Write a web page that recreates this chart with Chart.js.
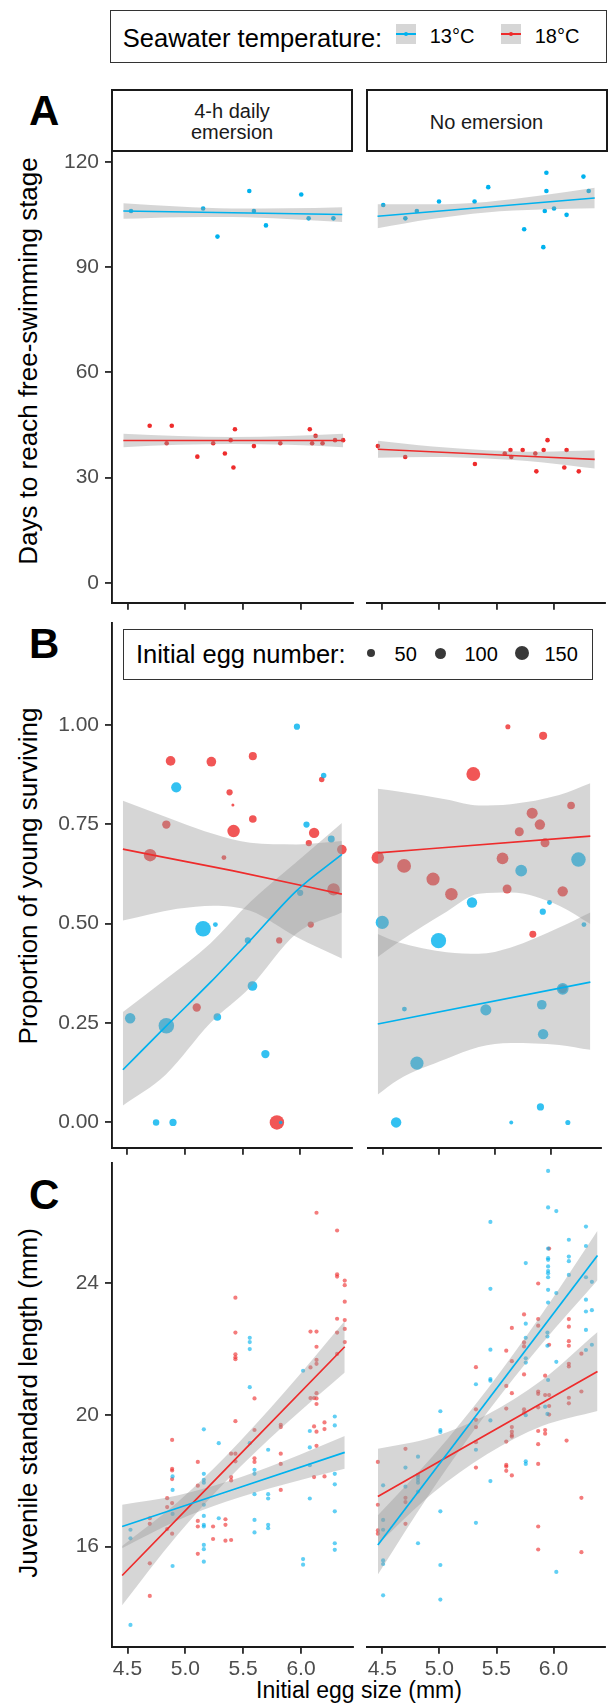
<!DOCTYPE html>
<html><head><meta charset="utf-8">
<script src="https://cdn.jsdelivr.net/npm/chart.js@4/dist/chart.umd.min.js"></script>
<style>
html,body{margin:0;padding:0;background:#fff}
body{position:relative;width:609px;height:1704px;overflow:hidden;font-family:'Liberation Sans',Arial,Helvetica,sans-serif;color:#000}
.t{position:absolute;white-space:nowrap;line-height:1}
.box{position:absolute;box-sizing:border-box}
canvas{position:absolute}
.ytitle{position:absolute;width:600px;height:26px;line-height:26px;font-size:26px;text-align:center;transform:rotate(-90deg);white-space:nowrap}
.letter{position:absolute;font-weight:bold;font-size:42px;line-height:1}
</style></head><body>

<!-- temperature legend -->
<div class="box" style="left:110px;top:10px;width:497px;height:52.5px;border:1.9px solid #333"></div>
<div class="t" style="left:122.8px;top:25.8px;font-size:25.5px">Seawater temperature:</div>
<div class="box" style="left:395.7px;top:24px;width:20px;height:20px;background:#d6d6d6"></div>
<div class="box" style="left:395.7px;top:33.2px;width:20px;height:1.6px;background:rgb(0,178,238)"></div>
<div class="box" style="left:403.5px;top:31.8px;width:4.4px;height:4.4px;border-radius:50%;background:rgb(0,178,238)"></div>
<div class="t" style="left:429.7px;top:25.5px;font-size:20px">13°C</div>
<div class="box" style="left:500.8px;top:24px;width:20px;height:20px;background:#d6d6d6"></div>
<div class="box" style="left:500.8px;top:33.2px;width:20px;height:1.6px;background:rgb(238,44,44)"></div>
<div class="box" style="left:508.6px;top:31.8px;width:4.4px;height:4.4px;border-radius:50%;background:rgb(238,44,44)"></div>
<div class="t" style="left:534.7px;top:25.5px;font-size:20px">18°C</div>

<!-- strips -->
<div class="box" style="left:110.8px;top:89.3px;width:242.5px;height:62.4px;border:2px solid #1a1a1a"></div>
<div class="t" style="left:110.8px;top:100.5px;width:242.5px;text-align:center;font-size:20px;line-height:21.7px;color:#1a1a1a">4-h daily<br>emersion</div>
<div class="box" style="left:365.5px;top:89.3px;width:242px;height:62.4px;border:2px solid #1a1a1a"></div>
<div class="t" style="left:365.5px;top:111.5px;width:242px;text-align:center;font-size:20px;line-height:21.7px;color:#1a1a1a">No emersion</div>

<!-- panel letters -->
<div class="letter" style="left:29px;top:90.1px">A</div>
<div class="letter" style="left:29px;top:623px">B</div>
<div class="letter" style="left:29px;top:1174.4px">C</div>

<!-- axis titles -->
<div class="ytitle" style="left:-271.8px;top:347.5px">Days to reach free-swimming stage</div>
<div class="ytitle" style="left:-271.8px;top:863px">Proportion of young surviving</div>
<div class="ytitle" style="left:-271.8px;top:1390px">Juvenile standard length (mm)</div>
<div class="t" style="left:159px;width:400px;text-align:center;top:1678.7px;font-size:23px">Initial egg size (mm)</div>

<!-- egg number legend -->
<div class="box" style="left:122.8px;top:629.3px;width:470px;height:50.7px;border:1.9px solid #333"></div>
<div class="t" style="left:135.9px;top:642.2px;font-size:25.5px">Initial egg number:</div>
<div class="t" style="left:394.6px;top:643.5px;font-size:20px">50</div>
<div class="t" style="left:464.5px;top:643.5px;font-size:20px">100</div>
<div class="t" style="left:544.4px;top:643.5px;font-size:20px">150</div>
<div id="sizeKeys"></div>

<script>
// ================= DATA =================
// shared x axis (initial egg size, mm)
const xTicks = [4.5, 5.0, 5.5, 6.0];
const xTickLabels = ['4.5', '5.0', '5.5', '6.0'];

// ---- Panel A : days to reach free-swimming stage ----
const A_yTicks = [0, 30, 60, 90, 120];
const A_yTickLabels = ['0', '30', '60', '90', '120'];
const A_emer_13_x = [4.531,5.154,5.278,5.553,5.593,5.697,6.002,6.066,6.280];
const A_emer_13_y = [106.0,106.7,98.7,111.7,106.0,101.9,110.7,103.9,103.9];
const A_emer_18_x = [4.692,4.839,4.883,5.104,5.241,5.342,5.392,5.416,5.429,5.593,5.821,6.076,6.096,6.126,6.186,6.294,6.364];
const A_emer_18_y = [44.8,39.8,44.8,36.0,39.8,36.9,40.7,32.9,43.8,39.0,39.8,43.8,39.8,41.9,39.8,40.7,40.7];
const A_none_13_x = [4.507,4.701,4.802,4.996,5.308,5.428,5.743,5.911,5.924,5.938,5.938,6.005,6.115,6.263,6.309];
const A_none_13_y = [107.7,103.9,106.0,108.7,108.7,112.8,100.8,95.7,106.0,116.9,111.7,106.7,104.9,115.8,111.7];
const A_none_18_x = [4.46,4.70,5.311,5.573,5.623,5.63,5.730,5.841,5.850,5.914,5.948,6.095,6.115,6.222];
const A_none_18_y = [39.0,35.9,33.9,36.9,37.9,35.9,37.9,36.9,31.8,37.9,40.7,32.9,37.9,31.8];
// fitted lines and confidence bands
const A_emer_13_fit_x = [4.464, 6.357], A_emer_13_fit_y = [106.0, 105.0];
const A_emer_13_band_x = [4.464,4.94,5.41,5.88,6.357];
const A_emer_13_band_lo = [103.8,104.25,104.3,103.75,102.9];
const A_emer_13_band_hi = [108.2,107.25,106.7,106.75,107.1];
const A_none_13_fit_x = [4.457, 6.362], A_none_13_fit_y = [104.5, 109.7];
const A_none_13_band_x = [4.457,4.93,5.41,5.89,6.362];
const A_none_13_band_lo = [101.1,103.69,105.6,106.41,106.8];
const A_none_13_band_hi = [107.9,107.89,108.6,110.41,112.6];
const A_emer_18_fit_x = [4.464, 6.364], A_emer_18_fit_y = [40.6, 40.6];
const A_emer_18_band_x = [4.464,4.94,5.41,5.89,6.364];
const A_emer_18_band_lo = [38.7,39.35,39.6,39.35,38.7];
const A_emer_18_band_hi = [42.5,41.85,41.6,41.85,42.5];
const A_none_18_fit_x = [4.46, 6.362], A_none_18_fit_y = [38.1, 35.2];
const A_none_18_band_x = [4.46,4.94,5.41,5.89,6.362];
const A_none_18_band_lo = [35.7,35.87,35.45,34.42,32.6];
const A_none_18_band_hi = [40.5,38.87,37.85,37.42,37.8];

// ---- Panel B : proportion of young surviving (point size = initial egg number) ----
const B_yTicks = [0, 0.25, 0.5, 0.75, 1.0];
const B_yTickLabels = ['0.00', '0.25', '0.50', '0.75', '1.00'];
const B_sizeKeys = [50, 100, 150];
const B_emer_13_x = [4.924,5.972,6.055,6.270,6.204,6.000,5.157,5.264,5.546,5.586,4.524,4.838,5.281,5.698,4.749,4.896,5.831];
const B_emer_13_y = [0.8425,0.995,0.749,0.7125,0.8725,0.5775,0.487,0.4975,0.4575,0.343,0.262,0.243,0.265,0.172,0,0,0];
const B_emer_13_n = [80,30,30,37,23,30,186,18,30,72,83,186,45,53,32,40,10];
const B_emer_18_x = [4.875,5.229,5.589,5.387,5.416,5.589,5.422,4.838,4.697,5.338,6.121,6.075,6.362,6.187,6.290,6.092,5.818,5.102,5.798];
const B_emer_18_y = [0.909,0.907,0.921,0.83,0.798,0.763,0.7325,0.749,0.672,0.666,0.728,0.7025,0.686,0.8625,0.586,0.4975,0.4575,0.289,0];
const B_emer_18_n = [72,72,50,30,7,45,120,53,120,18,83,30,72,23,120,30,30,53,160];
const B_none_13_x = [5.735,6.247,4.493,5.295,4.996,5.988,5.928,6.296,4.691,5.419,5.919,6.106,5.931,4.803,4.617,5.907,5.646,6.152];
const B_none_13_y = [0.633,0.661,0.503,0.553,0.457,0.553,0.53,0.4975,0.285,0.283,0.296,0.336,0.222,0.149,0,0.039,0,0];
const B_none_13_n = [106,162,133,83,178,18,30,18,18,94,72,106,83,133,83,40,12,20];
const B_none_18_x = [5.307,6.181,5.833,5.902,5.718,5.948,4.453,4.688,4.947,5.111,5.568,5.609,6.106,5.839,6.106,5.616,5.931];
const B_none_18_y = [0.876,0.797,0.7775,0.749,0.731,0.703,0.666,0.645,0.612,0.574,0.664,0.587,0.581,0.473,0.336,0.995,0.972];
const B_none_18_n = [148,45,94,83,62,62,120,148,133,120,106,62,83,37,60,20,50];
const B_emer_13_fit_x = [4.461,4.832,5.22,5.566,5.968,6.362];
const B_emer_13_fit_y = [0.1325,0.241,0.352,0.4575,0.5825,0.674];
const B_emer_13_band_x = [4.461,4.832,5.22,5.566,5.968,6.362];
const B_emer_13_band_lo = [0.0425,0.12,0.25,0.34,0.475,0.528];
const B_emer_13_band_hi = [0.278,0.36,0.45,0.554,0.655,0.753];
const B_emer_18_fit_x = [4.461,5.41,6.362];
const B_emer_18_fit_y = [0.687,0.633,0.574];
const B_emer_18_band_x = [4.461,4.933,5.25,5.566,5.968,6.362];
const B_emer_18_band_lo = [0.5075,0.537,0.545,0.532,0.466,0.412];
const B_emer_18_band_hi = [0.809,0.7575,0.725,0.703,0.699,0.7075];
const B_none_13_fit_x = [4.453,6.353];
const B_none_13_fit_y = [0.2475,0.353];
const B_none_13_band_x = [4.453,4.636,5.068,5.356,5.643,6.075,6.353];
const B_none_13_band_lo = [0.07,0.1075,0.16,0.19,0.2,0.195,0.1825];
const B_none_13_band_hi = [0.474,0.453,0.428,0.424,0.44,0.49,0.528];
const B_none_18_fit_x = [4.453,6.353];
const B_none_18_fit_y = [0.678,0.72];
const B_none_18_band_x = [4.453,4.636,5.068,5.356,5.643,6.075,6.353];
const B_none_18_band_lo = [0.416,0.453,0.53,0.575,0.578,0.545,0.499];
const B_none_18_band_hi = [0.839,0.832,0.812,0.797,0.80,0.823,0.853];

// ---- Panel C : juvenile standard length (mm) ----
const C_yTicks = [16, 20, 24];
const C_yTickLabels = ['16', '20', '24'];
const C_emer_13_x = [4.526,4.526,4.526, 4.89,4.89,4.89,4.89, 5.16,5.16,5.16,5.16,5.16,5.16,5.16,5.16,5.16,5.16,5.16, 5.289,5.289, 5.557,5.557,5.557,5.557,5.557, 5.598,5.598,5.598,5.598,5.598, 5.716,5.716,5.716,5.716,5.716, 6.018,6.018,6.018, 6.076,6.076,6.076,6.076, 6.292,6.292,6.292,6.292,6.292,6.292,6.292];
const C_emer_13_y = [16.51,16.25,13.62, 18.13,17.72,16.99,15.41, 19.56,18.21,18.03,17.94,17.27,16.93,16.66,16.61,16.05,15.92,15.54, 19.14,16.86, 19.14,22.34,22.21,22.00,20.84, 18.33,18.21,17.59,16.81,16.43, 18.94,17.59,17.46,16.66,16.56, 15.62,15.45,21.34, 19.51,19.01,18.47,17.46, 19.95,19.68,18.21,17.89,17.07,16.10,15.90];
const C_emer_18_x = [4.693,4.693,4.693,4.693, 4.843,4.843,4.843, 4.886,4.886,4.886,4.886,4.886,4.886, 5.108,5.108,5.108,5.108,5.108, 5.24,5.24, 5.347,5.347,5.347, 5.396,5.396,5.396,5.396, 5.433,5.433,5.433,5.433,5.433,5.433,5.433,5.433, 5.598,5.598,5.598,5.598, 5.825,5.825,5.825,5.825,5.825, 6.082,6.082,6.082, 6.113,6.113,6.113, 6.134,6.134,6.134,6.134,6.134,6.134,6.134,6.134,6.134,6.134, 6.203,6.203,6.203, 6.312,6.312,6.312,6.312,6.312,6.312, 6.378,6.378,6.378,6.378,6.378,6.378];
const C_emer_18_y = [15.49,14.50,16.86,16.69, 17.47,17.20,16.53, 19.24,18.36,18.31,18.05,17.32,16.39, 18.57,17.85,16.78,16.61,15.78, 16.61,16.23, 16.83,16.66,16.18, 16.20,18.82,18.11,18.01, 19.81,18.82,18.59,23.56,22.50,21.84,21.75,21.69, 20.50,19.54,18.68,18.57, 19.70,19.63,18.82,18.51,17.72, 22.53,21.44,20.51, 19.65,18.11,20.51, 22.53,22.07,21.67,21.55,26.14,20.66,20.50,20.33,19.49,19.06, 19.77,19.57,18.13, 25.60,24.27,24.20,22.92,22.50,21.85, 24.08,23.94,23.44,22.88,22.61,22.21];
const C_none_13_x = [4.506,4.506,4.506,4.506,4.506,4.506, 4.702,4.702, 4.812,4.812,4.812,4.812,4.812,4.812, 5.008,5.008,5.008,5.008,5.008,5.008, 5.32,5.32,5.32, 5.447,5.447,5.447,5.447,5.447,5.447,5.447, 5.757,5.757,5.757,5.757,5.757,5.757,5.757,5.757, 5.927, 5.947,5.947,5.947,5.947, 5.953,5.953,5.953,5.953,5.953,5.953,5.953,5.953,5.953,5.953,5.953,5.953, 6.025,6.025,6.025,6.025, 6.135,6.135,6.135,6.135, 6.285,6.285,6.285,6.285,6.285,6.285,6.285, 6.337,6.337,6.337];
const C_none_13_y = [17.86,16.81,16.51,15.58,15.47,14.52, 18.40,17.82, 18.73,18.11,18.03,17.94,17.67,16.10, 20.11,19.54,19.48,17.07,15.44,14.39, 18.94,16.72,20.93, 19.83,17.99,25.86,23.83,21.98,21.09,21.04, 19.99,18.59,18.51,24.61,22.77,22.34,21.72,21.59, 20.25, 20.03,22.50,22.38,22.10, 27.41,26.30,25.05,24.76,24.71,24.51,24.37,24.30,24.18,23.80,23.41,21.06, 15.23,26.19,23.70,21.61, 25.32,24.81,24.67,24.25, 25.72,25.13,24.18,23.50,23.14,22.58,21.97, 24.04,23.18,22.13];
const C_none_18_x = [4.46,4.46,4.46,4.46, 4.702,4.702,4.702,4.702, 4.812, 5.32,5.32,5.32,5.32,5.32,5.32, 5.586,5.586,5.586,5.586,5.586,5.586,5.586, 5.635,5.635,5.635,5.635,5.635,5.635,5.635,5.635, 5.742,5.742,5.742,5.742,5.742,5.742, 5.866,5.866,5.866,5.866,5.866,5.866,5.866,5.866,5.866,5.866,5.866, 5.927,5.927,5.927,5.927, 5.962,5.962,5.962,5.962,5.962, 6.115, 6.135,6.135,6.135,6.135,6.135,6.135,6.135,6.135, 6.245,6.245,6.245,6.245];
const C_none_18_y = [18.57,17.27,16.49,16.39, 18.97,17.48,17.35,16.69, 18.18, 20.17,19.85,19.63,19.17,18.40,21.45, 20.19,19.19,18.48,18.43,18.30,21.95,20.88, 20.66,19.63,19.49,19.39,19.34,18.16,22.64,21.63, 20.17,20.07,23.05,22.20,22.08,21.23, 20.71,20.64,20.23,19.51,19.11,18.51,16.61,15.91,23.99,22.91,22.71, 20.60,19.54,19.43,21.19, 20.60,20.27,20.01,25.05,22.13, 19.22, 20.52,20.35,22.91,22.68,22.24,22.10,21.55,21.47, 20.71,17.48,15.83,21.86];
const C_emer_13_fit_x = [4.454,6.378], C_emer_13_fit_y = [16.61,18.86];
const C_emer_13_band_x = [4.454,4.93,5.35,5.86,6.378];
const C_emer_13_band_lo = [15.95,16.79,17.36,17.89,18.36];
const C_emer_13_band_hi = [17.27,17.55,17.96,18.61,19.36];
const C_emer_18_fit_x = [4.454,6.378], C_emer_18_fit_y = [15.12,22.07];
const C_emer_18_band_x = [4.454,4.93,5.35,5.86,6.378];
const C_emer_18_band_lo = [14.22,16.34,17.98,19.70,21.29];
const C_emer_18_band_hi = [16.02,17.34,18.74,20.70,22.85];
const C_none_13_fit_x = [4.46,6.386], C_none_13_fit_y = [16.05,24.84];
const C_none_13_band_x = [4.46,4.94,5.42,5.9,6.386];
const C_none_13_band_lo = [15.15,17.74,20.08,22.17,24.09];
const C_none_13_band_hi = [16.95,18.74,20.78,23.07,25.59];
const C_none_18_fit_x = [4.46,6.386], C_none_18_fit_y = [17.52,21.32];
const C_none_18_band_x = [4.46,4.94,5.42,5.9,6.386];
const C_none_18_band_lo = [16.07,17.62,18.81,19.66,20.12];
const C_none_18_band_hi = [18.97,19.32,20.01,21.06,22.52];

// ================= STYLE / LAYOUT =================
const FONT = "'Liberation Sans', Arial, Helvetica, sans-serif";
const BLUE = '0,178,238', RED = '238,44,44';
const BAND = 'rgba(153,153,153,0.4)';
const X_MIN = 4.362, X_MAX = 6.452;
const COLS = [
  {left: 0, width: 360, padL: 0, padR: 360 - 353.3, yAxis: true},
  {left: 360, width: 249, padL: 6.7, padR: 0.5, yAxis: false}
];
const ROWS = {
  A: {top: 151.7, bottom: 603.3, min: -5.8, max: 122.9, ticks: A_yTicks, labels: A_yTickLabels, xLabels: false, extra: 12},
  B: {top: 623.3, bottom: 1148.3, min: -0.065, max: 1.255, ticks: B_yTicks, labels: B_yTickLabels, xLabels: false, extra: 12},
  C: {top: 1162.7, bottom: 1647.3, min: 12.94, max: 27.66, ticks: C_yTicks, labels: C_yTickLabels, xLabels: true, extra: 56.7}
};

function pts(xs, ys, ns) { return xs.map((x, i) => ns ? {x: x, y: ys[i], n: ns[i]} : {x: x, y: ys[i]}); }

function groupSets(g, color, pointR, alpha) {
  const out = [];
  out.push({data: pts(g.bx, g.bhi), showLine: true, fill: '+1', backgroundColor: BAND, borderColor: 'rgba(0,0,0,0)', borderWidth: 0, pointRadius: 0, order: 2, cubicInterpolationMode: 'monotone'});
  out.push({data: pts(g.bx, g.blo), showLine: true, fill: false, borderColor: 'rgba(0,0,0,0)', borderWidth: 0, pointRadius: 0, order: 2, cubicInterpolationMode: 'monotone'});
  out.push({data: pts(g.fx, g.fy), showLine: true, fill: false, borderColor: 'rgb(' + color + ')', borderWidth: 1.7, pointRadius: 0, order: 1, cubicInterpolationMode: 'monotone'});
  out.push({data: pts(g.px, g.py, g.pn), showLine: false, pointRadius: pointR, pointBorderWidth: 0, pointBorderColor: 'rgba(0,0,0,0)', pointBackgroundColor: 'rgba(' + color + ',' + alpha + ')', backgroundColor: 'rgba(' + color + ',' + alpha + ')', order: 3});
  return out;
}

function makeFacet(rowKey, colIdx, datasets) {
  const row = ROWS[rowKey], col = COLS[colIdx];
  const cTop = Math.floor(row.top - 20);
  const padTop = row.top - cTop;
  const cH = Math.min(1704, Math.ceil(row.bottom + row.extra)) - cTop;
  const xH = cH - padTop - (row.bottom - row.top);
  const c = document.createElement('canvas');
  c.width = col.width; c.height = cH;
  c.style.left = col.left + 'px'; c.style.top = cTop + 'px';
  c.style.width = col.width + 'px'; c.style.height = cH + 'px';
  document.body.appendChild(c);
  new Chart(c, {
    type: 'scatter',
    data: {datasets: datasets},
    options: {
      responsive: false, animation: false, devicePixelRatio: 1, events: [],
      layout: {padding: {top: padTop, left: col.padL, right: col.padR, bottom: 0}},
      plugins: {legend: {display: false}, tooltip: {enabled: false}, filler: {propagate: false}},
      scales: {
        x: {
          type: 'linear', min: X_MIN, max: X_MAX,
          afterBuildTicks: s => { s.ticks = xTicks.map(v => ({value: v})); },
          afterFit: s => { s.height = xH; s.paddingLeft = 0; s.paddingRight = 0; },
          ticks: {display: row.xLabels, autoSkip: false, maxRotation: 0, padding: 3,
                  callback: (v, i) => xTickLabels[i], color: '#4d4d4d', font: {family: FONT, size: 21}},
          grid: {display: true, drawOnChartArea: false, drawTicks: true, tickLength: 6.5, color: '#333', lineWidth: 1.9},
          border: {display: true, color: '#1a1a1a', width: 1.9}
        },
        y: {
          type: 'linear', display: col.yAxis, min: row.min, max: row.max,
          afterBuildTicks: s => { s.ticks = row.ticks.map(v => ({value: v})); },
          afterFit: s => { s.width = col.yAxis ? 111.5 : 0; s.paddingTop = 0; s.paddingBottom = 0; },
          ticks: {autoSkip: false, padding: 6, callback: (v, i) => row.labels[i], color: '#4d4d4d', font: {family: FONT, size: 21}},
          grid: {display: true, drawOnChartArea: false, drawTicks: true, tickLength: 6.5, color: '#333', lineWidth: 1.9},
          border: {display: true, color: '#1a1a1a', width: 1.9}
        }
      }
    }
  });
}

const rA = 2.3, rC = 2.1;
const rB = ctx => (ctx.raw && ctx.raw.n) ? 0.57 * Math.sqrt(ctx.raw.n) : 0;

makeFacet('A', 0, [].concat(
  groupSets({px: A_emer_13_x, py: A_emer_13_y, fx: A_emer_13_fit_x, fy: A_emer_13_fit_y, bx: A_emer_13_band_x, blo: A_emer_13_band_lo, bhi: A_emer_13_band_hi}, BLUE, rA, 1),
  groupSets({px: A_emer_18_x, py: A_emer_18_y, fx: A_emer_18_fit_x, fy: A_emer_18_fit_y, bx: A_emer_18_band_x, blo: A_emer_18_band_lo, bhi: A_emer_18_band_hi}, RED, rA, 1)));
makeFacet('A', 1, [].concat(
  groupSets({px: A_none_13_x, py: A_none_13_y, fx: A_none_13_fit_x, fy: A_none_13_fit_y, bx: A_none_13_band_x, blo: A_none_13_band_lo, bhi: A_none_13_band_hi}, BLUE, rA, 1),
  groupSets({px: A_none_18_x, py: A_none_18_y, fx: A_none_18_fit_x, fy: A_none_18_fit_y, bx: A_none_18_band_x, blo: A_none_18_band_lo, bhi: A_none_18_band_hi}, RED, rA, 1)));
makeFacet('B', 0, [].concat(
  groupSets({px: B_emer_13_x, py: B_emer_13_y, pn: B_emer_13_n, fx: B_emer_13_fit_x, fy: B_emer_13_fit_y, bx: B_emer_13_band_x, blo: B_emer_13_band_lo, bhi: B_emer_13_band_hi}, BLUE, rB, 0.8),
  groupSets({px: B_emer_18_x, py: B_emer_18_y, pn: B_emer_18_n, fx: B_emer_18_fit_x, fy: B_emer_18_fit_y, bx: B_emer_18_band_x, blo: B_emer_18_band_lo, bhi: B_emer_18_band_hi}, RED, rB, 0.8)));
makeFacet('B', 1, [].concat(
  groupSets({px: B_none_13_x, py: B_none_13_y, pn: B_none_13_n, fx: B_none_13_fit_x, fy: B_none_13_fit_y, bx: B_none_13_band_x, blo: B_none_13_band_lo, bhi: B_none_13_band_hi}, BLUE, rB, 0.8),
  groupSets({px: B_none_18_x, py: B_none_18_y, pn: B_none_18_n, fx: B_none_18_fit_x, fy: B_none_18_fit_y, bx: B_none_18_band_x, blo: B_none_18_band_lo, bhi: B_none_18_band_hi}, RED, rB, 0.8)));
makeFacet('C', 0, [].concat(
  groupSets({px: C_emer_13_x, py: C_emer_13_y, fx: C_emer_13_fit_x, fy: C_emer_13_fit_y, bx: C_emer_13_band_x, blo: C_emer_13_band_lo, bhi: C_emer_13_band_hi}, BLUE, rC, 0.62),
  groupSets({px: C_emer_18_x, py: C_emer_18_y, fx: C_emer_18_fit_x, fy: C_emer_18_fit_y, bx: C_emer_18_band_x, blo: C_emer_18_band_lo, bhi: C_emer_18_band_hi}, RED, rC, 0.62)));
makeFacet('C', 1, [].concat(
  groupSets({px: C_none_13_x, py: C_none_13_y, fx: C_none_13_fit_x, fy: C_none_13_fit_y, bx: C_none_13_band_x, blo: C_none_13_band_lo, bhi: C_none_13_band_hi}, BLUE, rC, 0.62),
  groupSets({px: C_none_18_x, py: C_none_18_y, fx: C_none_18_fit_x, fy: C_none_18_fit_y, bx: C_none_18_band_x, blo: C_none_18_band_lo, bhi: C_none_18_band_hi}, RED, rC, 0.62)));

// size legend keys (same size mapping as the points)
const keyX = [371.4, 440.2, 522.0];
const holder = document.getElementById('sizeKeys');
B_sizeKeys.forEach((n, i) => {
  const r = 0.57 * Math.sqrt(n);
  const d = document.createElement('div');
  d.className = 'box';
  d.style.cssText = 'position:absolute;border-radius:50%;background:rgba(0,0,0,0.78);left:' + (keyX[i] - r) + 'px;top:' + (653.3 - r) + 'px;width:' + (2 * r) + 'px;height:' + (2 * r) + 'px';
  holder.appendChild(d);
});
</script>
</body></html>
